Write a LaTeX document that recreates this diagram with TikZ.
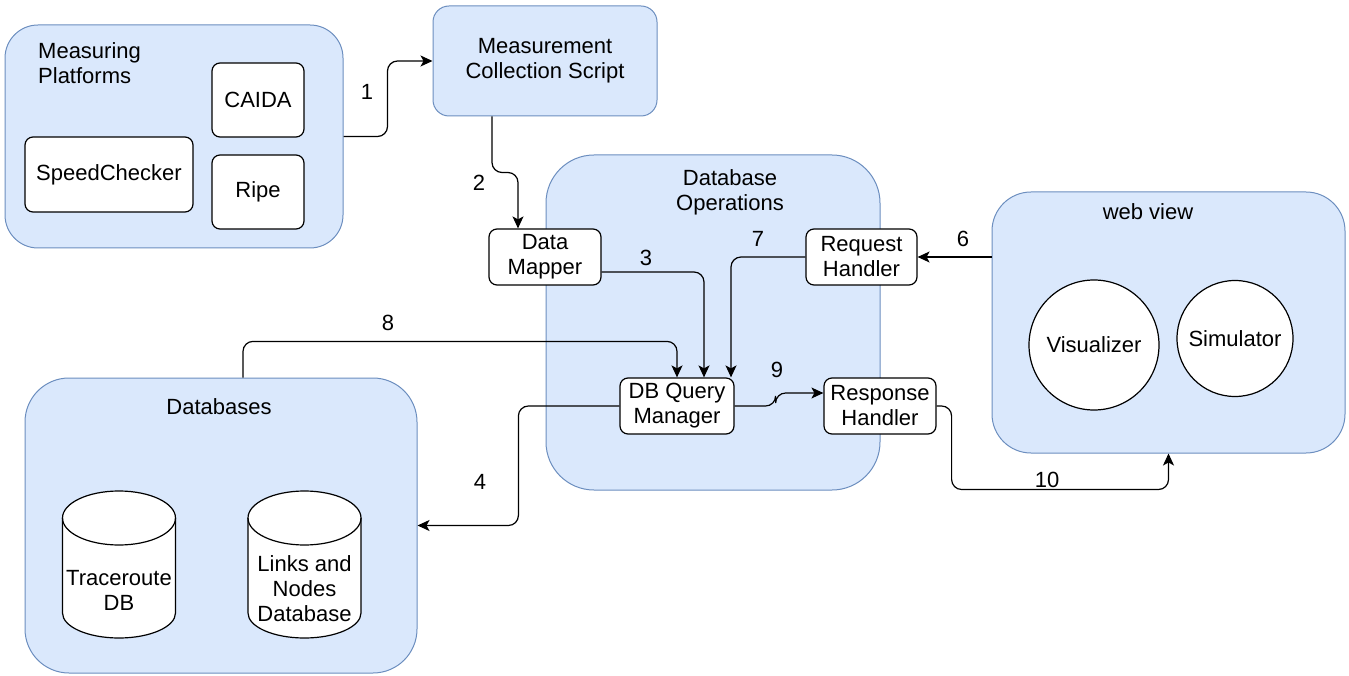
\documentclass[tikz,border=0pt]{standalone}
\usepackage{fontspec}
\setmainfont{Liberation Sans}
\usetikzlibrary{positioning, calc, arrows.meta}
\definecolor{grpfill}{HTML}{DAE8FC}
\definecolor{grpline}{HTML}{6C8EBF}
\tikzset{
    group/.style={rectangle, draw=grpline, fill=grpfill, line width=1pt, rounded corners=#1, inner sep=0pt},
    group/.default=30pt,
    box/.style={rectangle, draw, fill=white, line width=1.2pt, rounded corners=8pt, align=center, inner sep=2pt},
    roundbox/.style={circle, draw, fill=white, line width=1.2pt, inner sep=0pt},
    cylline/.style={draw, fill=white, line width=1.2pt},
    dbtext/.style={align=center, inner sep=0pt},
    grouptitle/.style={align=center, inner sep=0pt},
    steplabel/.style={inner sep=0pt},
    link/.style={line width=1.2pt, rounded corners=10pt, -{Stealth[length=12pt, width=11pt, inset=3pt]}},
}
% database drum round a named coordinate
\newcommand{\drawcyl}[1]{
    \draw[cylline] ([shift={(-56.5pt,46.5pt)}]#1) -- ([shift={(-56.5pt,-48.5pt)}]#1)
        arc[start angle=180, end angle=360, x radius=56.5pt, y radius=25pt]
        -- ([shift={(56.5pt,46.5pt)}]#1)
        arc[start angle=0, end angle=180, x radius=56.5pt, y radius=27pt] -- cycle;
    \draw[cylline, fill=none] ([shift={(-56.5pt,46.5pt)}]#1)
        arc[start angle=180, end angle=360, x radius=56.5pt, y radius=27pt];
}

\begin{document}
\begin{tikzpicture}[x=1pt, y=-1pt, font=\fontsize{22}{25}\selectfont]
    \useasboundingbox (0,0) rectangle (1349,676);
    % containers
    \node[group=33pt, minimum width=338pt, minimum height=223pt] (plat) at (174,136.5) {};
    \node[group=16pt, minimum width=224pt, minimum height=110pt, align=center] (collect) at (545,61) {Measurement\\Collection Script};
    \node[group=48pt, minimum width=334pt, minimum height=335pt] (ops) at (713,322.5) {};
    \node[group=39pt, minimum width=353pt, minimum height=261pt] (web) at (1168.5,322.5) {};
    \node[group=44pt, minimum width=392pt, minimum height=295pt] (dbs) at (221,525.5) {};
    % container titles
    \node[grouptitle, anchor=west, align=left] (platT) at (38,63.5) {Measuring\\Platforms};
    \node[grouptitle] (opsT) at (730,192.5) {Database\\Operations};
    \node[grouptitle] (webT) at (1148,212) {web view};
    \node[grouptitle] (dbsT) at (219,407) {Databases};
    % measuring platforms
    \node[box, minimum width=92pt, minimum height=74pt] (caida) at (258,100) {CAIDA};
    \node[box, minimum width=92pt, minimum height=74pt] (ripe) at (258,192) {Ripe};
    \node[box, minimum width=168pt, minimum height=75pt] (speed) at (109,174.5) {SpeedChecker};
    % database operations
    \node[box, minimum width=112pt, minimum height=56pt] (mapper) at (545,257) {Data\\Mapper};
    \node[box, minimum width=111pt, minimum height=56pt] (req) at (861.5,257) {Request\\Handler};
    \node[box, minimum width=114pt, minimum height=56pt] (dbq) at (677,406) {DB Query\\Manager};
    \node[box, minimum width=112pt, minimum height=56pt] (resp) at (880,406) {Response\\Handler};
    % web view
    \node[roundbox, minimum size=130pt] (vis) at (1094,345) {Visualizer};
    \node[roundbox, minimum size=116pt] (sim) at (1235,338.5) {Simulator};
    % databases
    \coordinate (trace) at (119,564.5);
    \coordinate (links) at (304.5,564.5);
    \drawcyl{trace}
    \drawcyl{links}
    \node[dbtext] (traceT) at (119,590) {Traceroute\\DB};
    \node[dbtext] (linksT) at (304.5,589) {Links and\\Nodes\\Database};
    % connectors
    \draw[link] (plat.east) -- ++(44,0) |- (collect.west);
    \draw[link] ([xshift=-53pt]collect.south) -- ++(0,56) -| ([xshift=-27pt]mapper.north);
    \draw[link] ([yshift=-15pt]mapper.east) -| ([xshift=27pt]dbq.north);
    \draw[link] (dbq.west) -- ++(-101,0) |- (dbs.east);
    \draw[link] (req.east -| web.west) -- (req.east);
    \draw[link] (req.west) -| ([xshift=54pt]dbq.north);
    \draw[link] ([xshift=22pt]dbs.north) |- ([yshift=36pt]dbq.north) -- (dbq.north);
    \draw[link] (dbq.east) -- ++(41,0) |- ([yshift=13pt]resp.west);
    \draw[link] (resp.east) -- ++(15,0) |- ([yshift=-36pt]web.south) -- (web.south);
    % step numbers
    \node[steplabel] (l1) at (367,92) {1};
    \node[steplabel] (l2) at (479,183) {2};
    \node[steplabel] (l3) at (646,258) {3};
    \node[steplabel] (l4) at (480,482) {4};
    \node[steplabel] (l6) at (963,239) {6};
    \node[steplabel] (l7) at (758,239) {7};
    \node[steplabel] (l8) at (388,323) {8};
    \node[steplabel] (l9) at (777,370) {9};
    \node[steplabel] (l10) at (1047,480) {10};
\end{tikzpicture}
\end{document}
